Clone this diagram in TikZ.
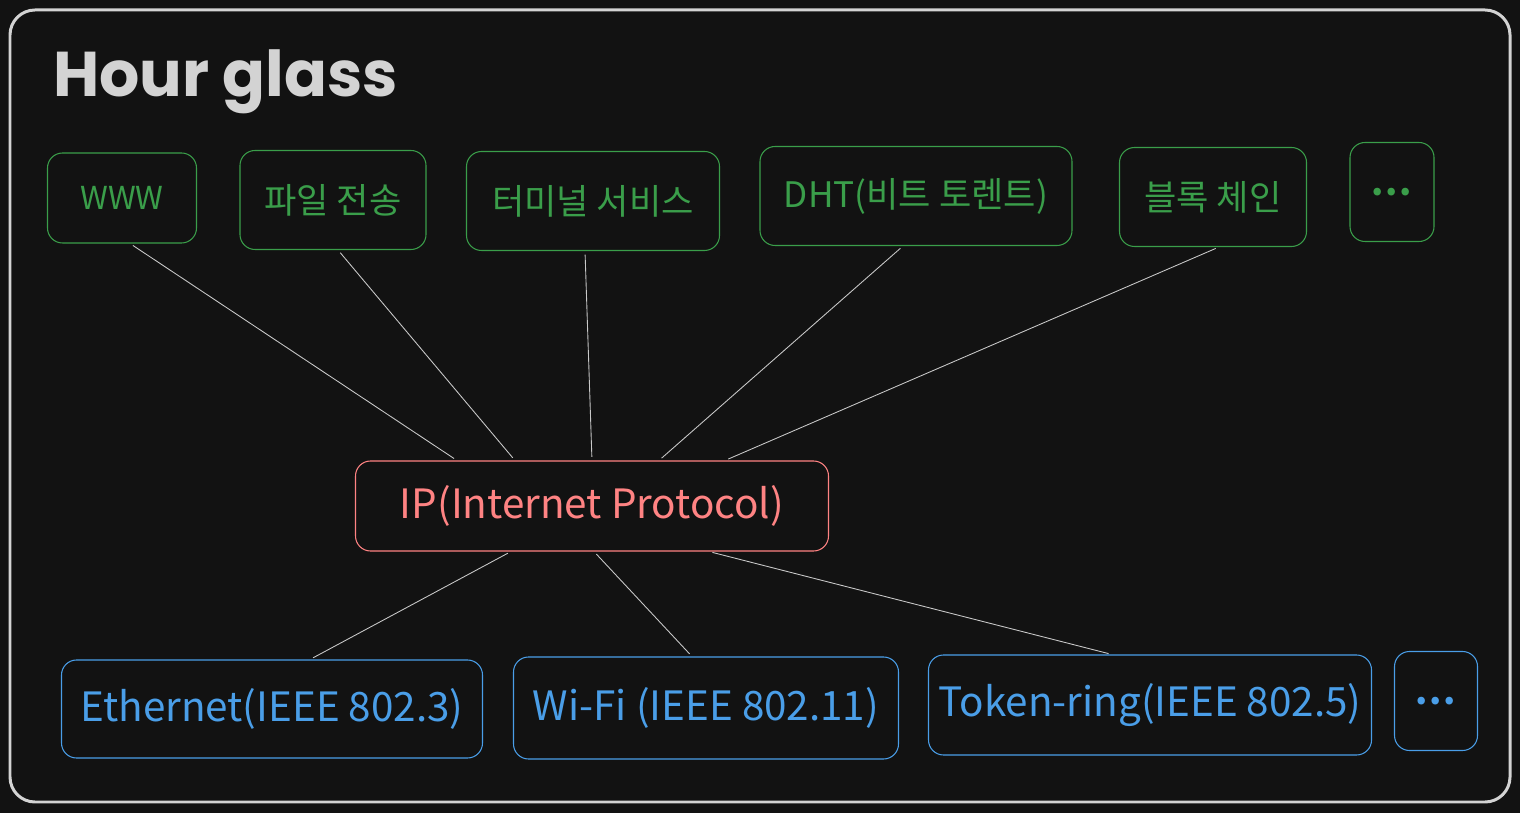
\documentclass[tikz,border=0pt]{standalone}
\usepackage{fontspec}
\setmainfont{Noto Sans CJK KR}
\newfontfamily\titlefont{Poppins}
\usetikzlibrary{calc}
\definecolor{bgdark}{HTML}{121212}
\definecolor{framegray}{HTML}{D3D3D3}
\definecolor{appgreen}{HTML}{3A9E4A}
\definecolor{ipred}{HTML}{FF8383}
\definecolor{netblue}{HTML}{4A9EE8}
\definecolor{linkgray}{HTML}{C8C8C8}
\begin{document}
\begin{tikzpicture}[x=0.02cm,y=-0.02cm,
	box/.style 2 args={draw,rounded corners=0.3cm,line width=0.6pt,inner sep=0pt,
		minimum width=#1*0.02cm,minimum height=#2*0.02cm,font=\fontsize{20}{24}\selectfont},
	wide/.style={font=\fontsize{23}{26}\selectfont},
	appbox/.style={draw=appgreen,text=appgreen},
	ipbox/.style={draw=ipred,text=ipred},
	netbox/.style={draw=netblue,text=netblue},
	link/.style={draw=linkgray,line width=0.5pt,shorten <=2pt,shorten >=2pt}]
		\fill[bgdark](0,0) rectangle (1520,813);
		\draw[framegray,line width=1.7pt,rounded corners=0.5cm](10,10) rectangle (1510,802);
		\node[anchor=base west,text=framegray,font=\titlefont\bfseries\fontsize{36}{40}\selectfont] (title) at (47,97) {Hour glass};
		% applications
		\node[box={149}{90},appbox,font=\fontsize{18}{22}\selectfont] (www) at (122,198) {WWW};
		\node[box={186}{99},appbox] (file) at (333,200) {파일 전송};
		\node[box={253}{99},appbox] (term) at (593,201) {터미널 서비스};
		\node[box={312}{99},appbox] (dht) at (916,196) {DHT(비트 토렌트)};
		\node[box={187}{99},appbox] (chain) at (1213,197) {블록 체인};
		\node[box={84}{99},appbox] (appmore) at (1392,192) {\textbf{.\kern1pt.\kern1pt.}};
		% waist
		\node[box={473}{90},ipbox,wide] (ip) at (592,506) {IP(Internet Protocol)};
		% networks
		\node[box={421}{98},netbox,wide] (eth) at (272,709) {Ethernet(IEEE 802.3)};
		\node[box={385}{102},netbox,wide] (wifi) at (706,708) {Wi-Fi (IEEE 802.11)};
		\node[box={443}{100},netbox,wide] (token) at (1150,705) {Token-ring(IEEE 802.5)};
		\node[box={83}{99},netbox] (netmore) at (1436,701) {\textbf{.\kern1pt.\kern1pt.}};
		\foreach \a/\dx/\ix in {www/8/102,file/5/160,term/-8/237,dht/-13/304,chain/6/370}
			\draw[link]($(\a.south)+(\dx,0)$)--($(ip.north west)+(\ix,0)$);
		\foreach \b/\dx/\ix in {eth/38/156,wifi/-14/239,token/-38/354}
			\draw[link]($(ip.south west)+(\ix,0)$)--($(\b.north)+(\dx,0)$);
\end{tikzpicture}
\end{document}
